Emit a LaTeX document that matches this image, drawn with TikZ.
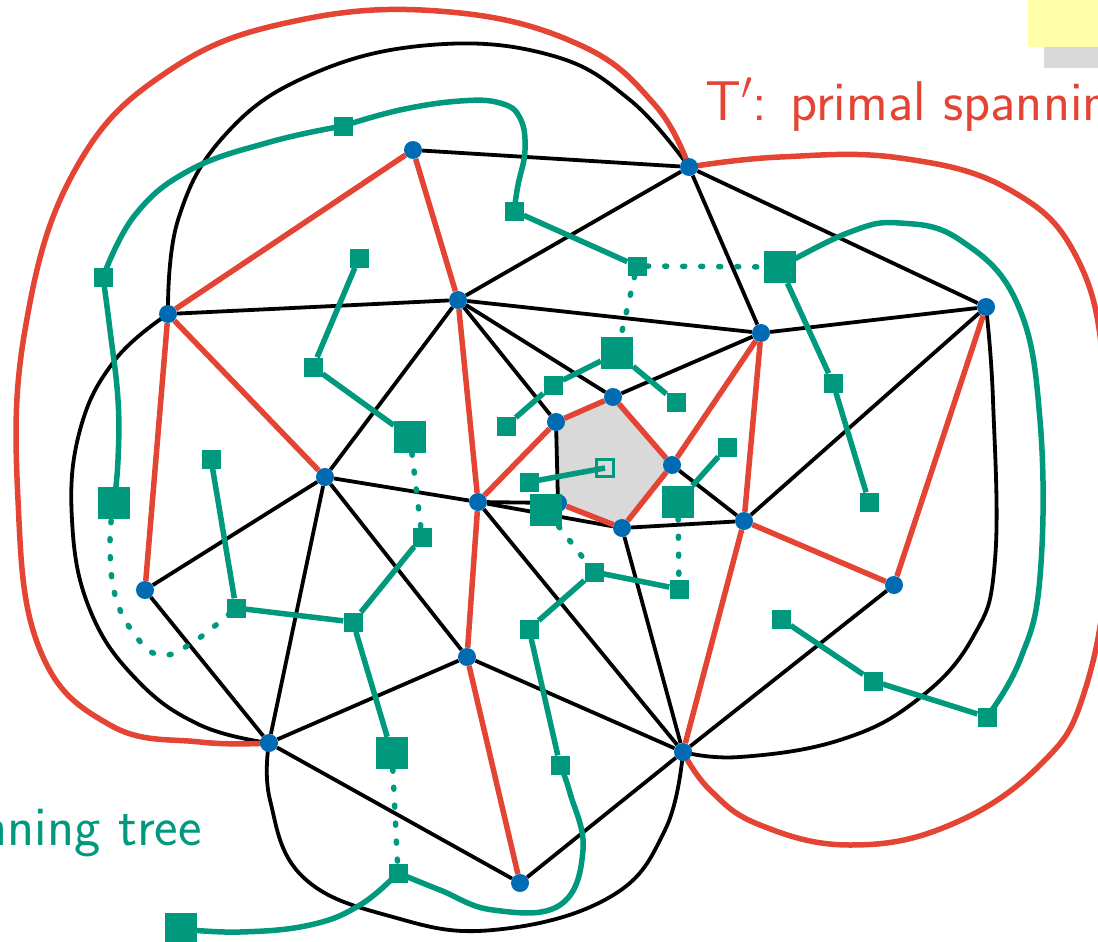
\RequirePackage{fix-cm}
\documentclass[tikz,border=0pt]{standalone}
\definecolor{tred}{RGB}{228,68,52}
\definecolor{dgreen}{RGB}{0,153,125}
\definecolor{pblue}{RGB}{0,107,178}
\definecolor{fshade}{RGB}{217,217,217}
\definecolor{notey}{RGB}{255,255,170}
\pgfdeclarelayer{shade}
\pgfdeclarelayer{primal}
\pgfdeclarelayer{tree}
\pgfdeclarelayer{dual}
\pgfsetlayers{shade,primal,tree,main,dual}
\begin{document}
\begin{tikzpicture}[x=1pt,y=-1pt,
  vtx/.style={circle,fill=pblue,inner sep=0pt,minimum size=18pt},
  dsq/.style={rectangle,fill=dgreen,inner sep=0pt,minimum size=19pt},
  dbig/.style={rectangle,fill=dgreen,inner sep=0pt,minimum size=32pt},
  droot/.style={rectangle,draw=dgreen,line width=2.5pt,inner sep=0pt,minimum size=17pt},
  pedge/.style={line width=3.8pt,black},
  tedge/.style={line width=5.5pt,tred},
  dedge/.style={line width=5.5pt,dgreen},
  ddot/.style={line width=5.5pt,dgreen,line cap=round,dash pattern=on 2pt off 16pt},
  lbl/.style={inner sep=0pt,font=\sffamily\fontsize{56}{60}\selectfont}]
\useasboundingbox (0,0) rectangle (1098,942);

% note box in the corner
\fill[fshade] (1044,0) rectangle (1098,68);
\fill[notey] (1028,0) rectangle (1098,47);

% primal vertices
\node[vtx] (A) at (413,150) {};
\node[vtx] (B) at (689,167) {};
\node[vtx] (C) at (168,314) {};
\node[vtx] (D) at (458,300) {};
\node[vtx] (E) at (761,333) {};
\node[vtx] (F) at (986,307) {};
\node[vtx] (G) at (613,397) {};
\node[vtx] (H) at (556,422) {};
\node[vtx] (I) at (672,465) {};
\node[vtx] (J) at (325,477) {};
\node[vtx] (K) at (478,502) {};
\node[vtx] (L) at (558,503) {};
\node[vtx] (M) at (622,528) {};
\node[vtx] (N) at (744,521) {};
\node[vtx] (O) at (145,590) {};
\node[vtx] (P) at (894,585) {};
\node[vtx] (Q) at (467,657) {};
\node[vtx] (R) at (269,743) {};
\node[vtx] (S) at (683,752) {};
\node[vtx] (T) at (520,883) {};

% shaded face
\begin{pgfonlayer}{shade}
\fill[fshade] (H.center) -- (G.center) -- (I.center) -- (M.center) -- (L.center) -- cycle;
\end{pgfonlayer}

% primal edges not in the tree
\begin{pgfonlayer}{primal}
\foreach \u/\v in {A/B,B/D,B/E,B/F,C/D,D/E,E/F,D/G,D/H,D/J,E/G,F/N,H/L,K/L,K/M,M/N,I/N,
                   J/K,J/O,J/Q,J/R,O/R,R/Q,R/T,Q/S,K/S,M/S,S/T,S/P}
  \draw[pedge] (\u) -- (\v);
\draw[pedge] plot[smooth,tension=0.7] coordinates {(C) (178,220) (225,135) (310,75) (430,45) (550,55) (630,100) (B)};
\draw[pedge] plot[smooth,tension=0.7] coordinates {(C) (115,360) (80,430) (72,520) (90,610) (137,680) (200,725) (R)};
\draw[pedge] plot[smooth,tension=0.7] coordinates {(R) (270,800) (303,877) (393,917) (493,930) (610,897) (665,830) (S)};
\draw[pedge] plot[smooth,tension=0.7] coordinates {(F) (993,400) (995,560) (973,637) (917,700) (840,740) (740,757) (S)};
\end{pgfonlayer}

% primal spanning tree
\begin{pgfonlayer}{tree}
\foreach \u/\v in {A/C,A/D,C/J,C/O,D/K,K/Q,Q/T,K/H,H/G,G/I,I/M,M/L,E/I,E/N,N/S,N/P,P/F}
  \draw[tedge] (\u) -- (\v);
\draw[tedge] plot[smooth,tension=0.7] coordinates {(B) (655,105) (580,45) (450,12) (300,20) (170,70) (75,170) (25,330) (18,500) (40,650) (110,725) (200,742) (R)};
\draw[tedge] plot[smooth,tension=0.7] coordinates {(B) (780,157) (900,158) (1010,190) (1078,260) (1105,380) (1108,550) (1085,690) (1040,765) (950,825) (850,845) (760,825) (710,790) (S)};
\node[lbl,text=tred,anchor=base west] (tlabel) at (705,120) {T$'$: primal spannin};
\end{pgfonlayer}

% dual vertices and dual tree
\begin{pgfonlayer}{dual}
\node[dsq] (g1) at (343,126) {};
\node[dsq] (g2) at (103,277) {};
\node[dsq] (g3) at (514,211) {};
\node[dsq] (g4) at (637,266) {};
\node[dsq] (g5) at (359,258) {};
\node[dsq] (g6) at (313,367) {};
\node[dsq] (g7) at (553,385) {};
\node[dsq] (g8) at (506,426) {};
\node[dsq] (g9) at (676,402) {};
\node[dsq] (g10) at (727,447) {};
\node[dsq] (g11) at (833,383) {};
\node[dsq] (g12) at (869,502) {};
\node[dsq] (g13) at (211,459) {};
\node[dsq] (g14) at (422,537) {};
\node[dsq] (g15) at (236,608) {};
\node[dsq] (g16) at (353,622) {};
\node[dbig] (G5) at (546,510) {};
\node[dsq] (g17) at (529,482) {};
\node[dsq] (g18) at (594,572) {};
\node[dsq] (g19) at (679,589) {};
\node[dsq] (g20) at (529,629) {};
\node[dsq] (g21) at (781,619) {};
\node[dsq] (g22) at (873,681) {};
\node[dsq] (g23) at (987,717) {};
\node[dsq] (g24) at (560,765) {};
\node[dsq] (g25) at (398,873) {};
\node[dbig] (G1) at (780,267) {};
\node[dbig] (G2) at (617,353) {};
\node[dbig] (G3) at (410,437) {};
\node[dbig] (G4) at (114,503) {};
\node[dbig] (G6) at (678,502) {};
\node[dbig] (G7) at (392,753) {};
\node[dbig] (G8) at (181,929) {};
\node[droot] (hol) at (605,468) {};

\foreach \u/\v in {g8/g7,g7/G2,G2/g9,G6/g10,g3/g4,G1/g11,g11/g12,g21/g22,g22/g23,
                   g5/g6,g6/G3,g13/g15,g15/g16,g16/g14,g16/G7,g24/g20,g20/g18,g18/g19}
  \draw[dedge] (\u) -- (\v);
\draw[dedge] (g17) -- (hol.center);
\draw[dedge] plot[smooth,tension=0.7] coordinates {(G1) (850,232) (900,223) (960,240) (1017,303) (1040,420) (1040,577) (1020,660) (g23)};
\draw[dedge] plot[smooth,tension=0.7] coordinates {(g3) (518,185) (525,150) (520,118) (500,103) (460,101) (400,110) (g1)};
\draw[dedge] plot[smooth,tension=0.7] coordinates {(g1) (270,142) (190,170) (135,215) (g2)};
\draw[dedge] plot[smooth,tension=0.7] coordinates {(g2) (110,330) (118,400) (118,460) (G4)};
\draw[dedge] plot[smooth,tension=0.7] coordinates {(G8) (240,932) (310,925) (360,905) (g25)};
\draw[dedge] plot[smooth,tension=0.7] coordinates {(g25) (440,890) (493,910) (560,905) (583,850) (570,793) (g24)};

\foreach \u/\v in {g4/G1,g4/G2,G3/g14,G5/g18,G6/g19,G7/g25}
  \draw[ddot] (\u) -- (\v);
\draw[ddot] plot[smooth,tension=0.7] coordinates {(G4) (110,540) (115,595) (135,635) (160,655) (192,643) (g15)};

\node[lbl,text=dgreen,anchor=base east] (dlabel) at (202,845) {nning tree};
\end{pgfonlayer}
\end{tikzpicture}
\end{document}
